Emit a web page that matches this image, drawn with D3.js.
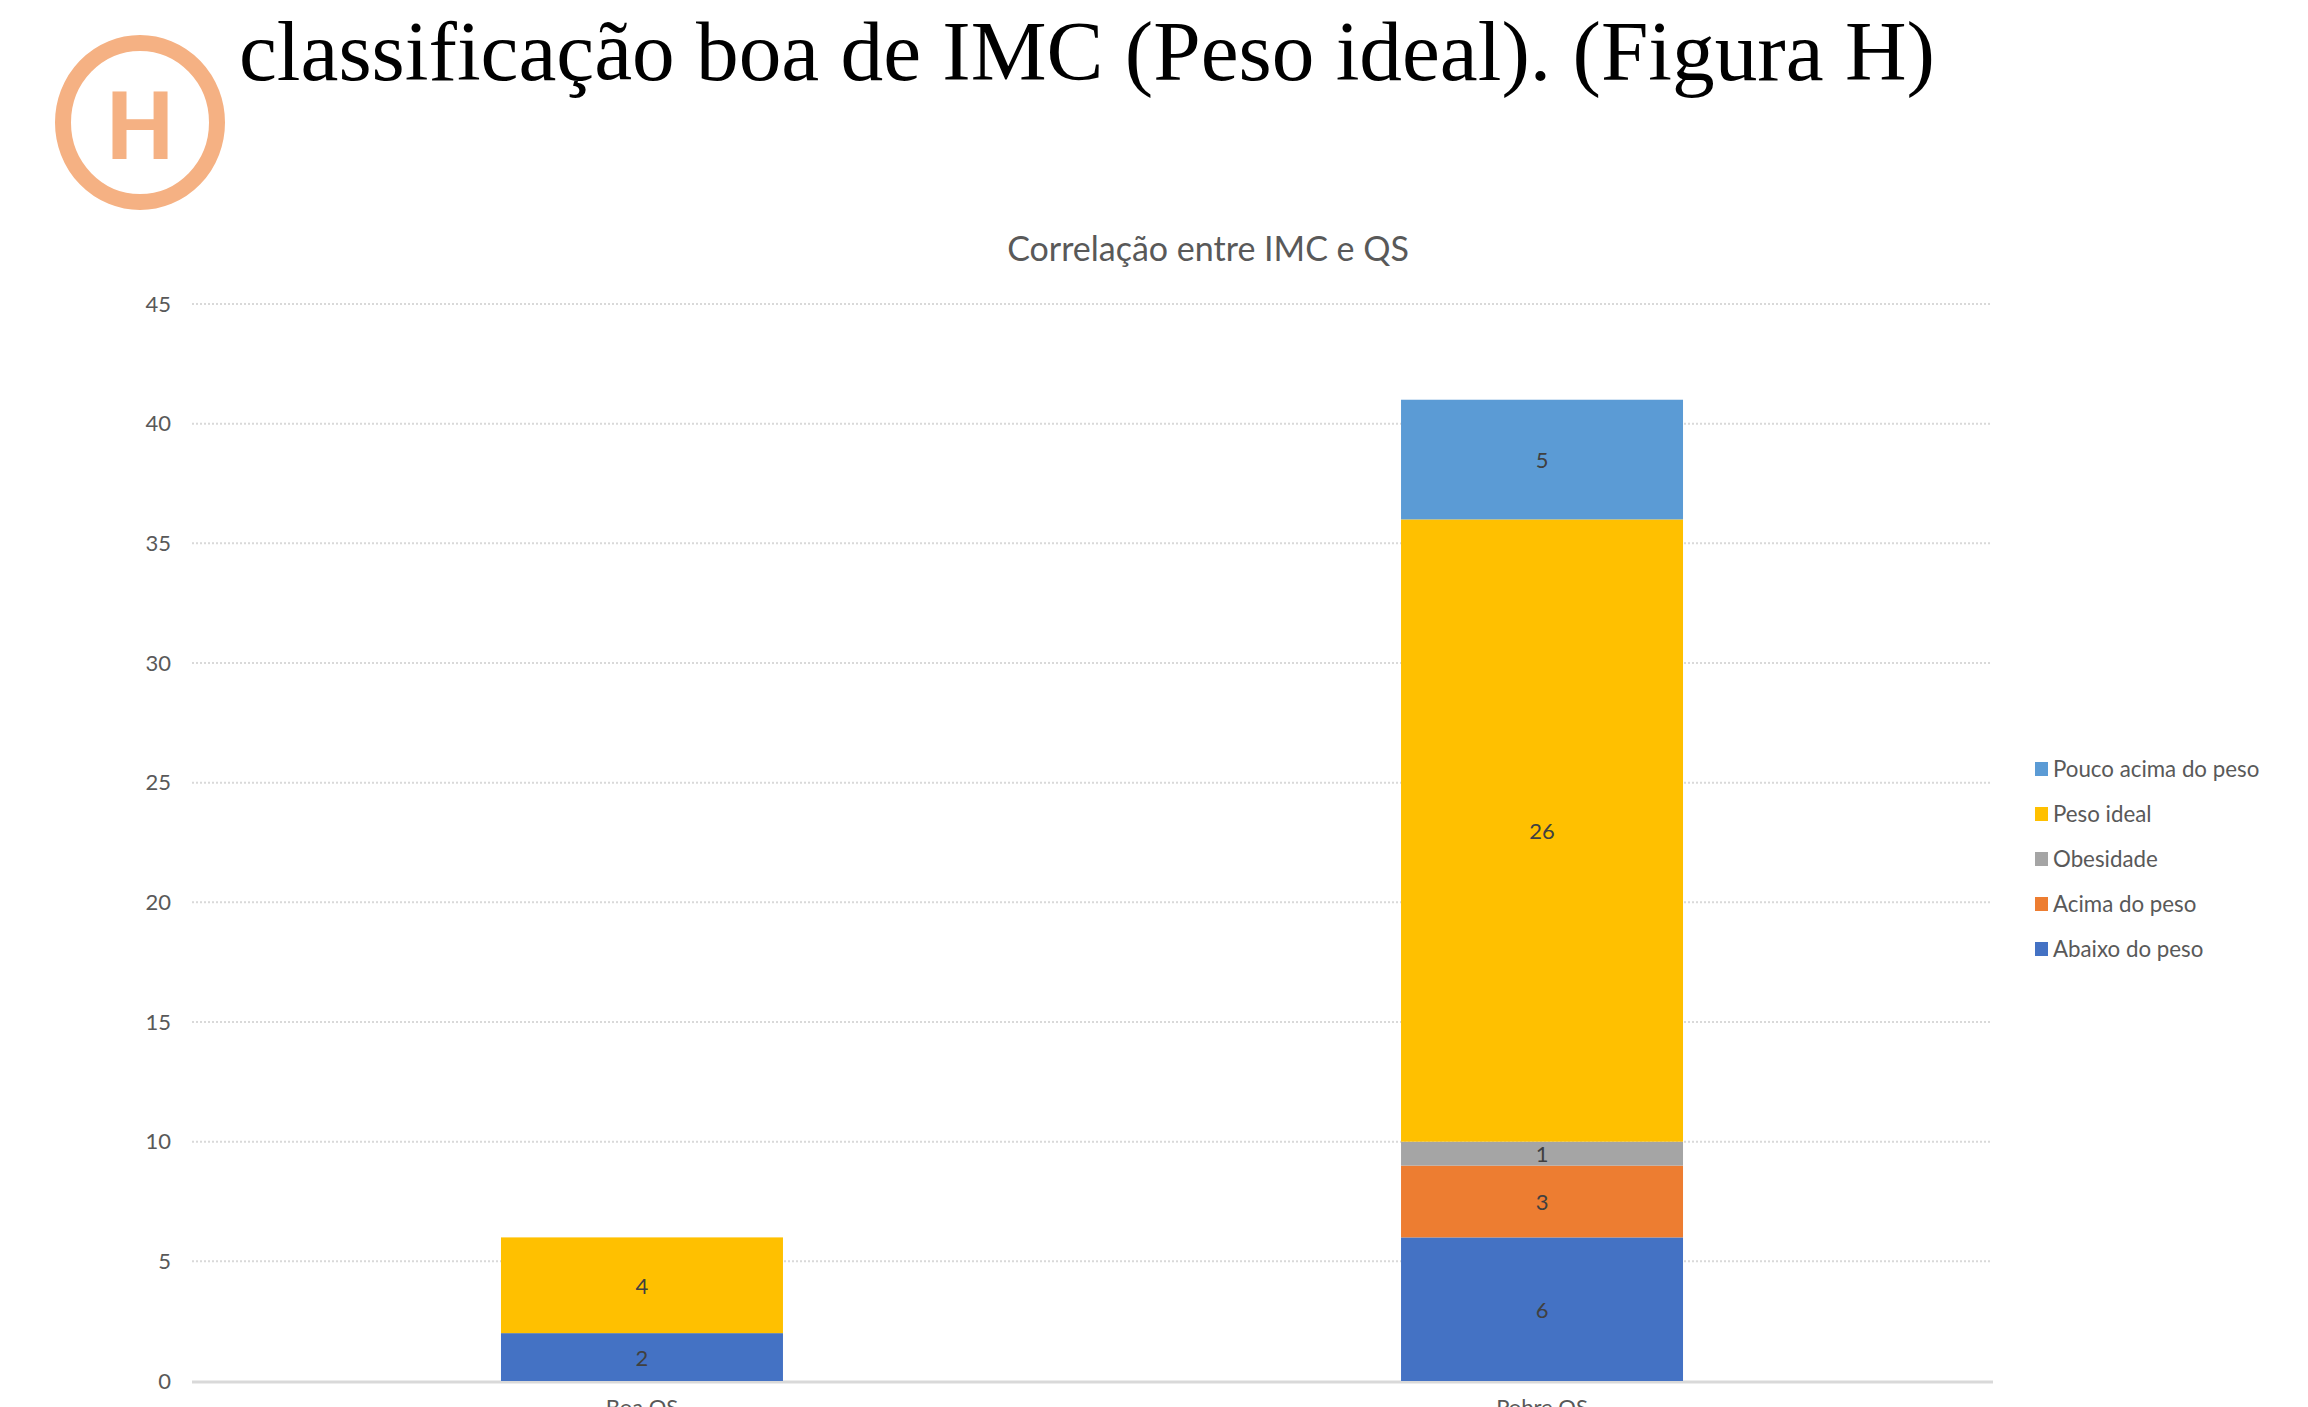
<!DOCTYPE html>
<html><head><meta charset="utf-8">
<script src="https://cdn.jsdelivr.net/npm/d3@7"></script>
<style>html,body{margin:0;background:#fff}svg{display:block}</style></head>
<body><svg id="c" width="2308" height="1407"></svg>
<script>
const categories = ["Boa QS", "Pobre QS"];
const seriesNames = ["Abaixo do peso", "Acima do peso", "Obesidade", "Peso ideal", "Pouco acima do peso"];
const seriesColors = ["#4472c4", "#ed7d31", "#a5a5a5", "#ffc000", "#5b9bd5"];
const boaValues = [2, 0, 0, 4, 0];
const pobreValues = [6, 3, 1, 26, 5];
const yTicks = [0, 5, 10, 15, 20, 25, 30, 35, 40, 45];
const headingText = "classificação boa de IMC (Peso ideal). (Figura H)";
const chartTitle = "Correlação entre IMC e QS";

const svg = d3.select("#c");
const sans = "Lato, 'Open Sans', sans-serif";
const x = d3.scaleBand().domain(categories).range([192, 1992]).paddingInner(0.6867).paddingOuter(0.3433);
const y = d3.scaleLinear().domain([0, 45]).range([1381, 304]);

svg.append("text").attr("x", 239).attr("y", 80).attr("font-family", "'Liberation Serif', serif")
  .attr("font-size", 85.3).attr("fill", "#000").text(headingText);

svg.append("ellipse").attr("cx", 140).attr("cy", 122.5).attr("rx", 77).attr("ry", 79.5)
  .attr("fill", "none").attr("stroke", "#f5b183").attr("stroke-width", 16);
svg.append("text").attr("x", 140).attr("y", 159).attr("text-anchor", "middle")
  .attr("font-family", "Roboto, sans-serif").attr("font-weight", 700).attr("font-size", 95)
  .attr("fill", "#f5b183").text("H");

svg.append("text").attr("x", 1208).attr("y", 261).attr("text-anchor", "middle").attr("font-family", sans)
  .attr("font-size", 34).attr("fill", "#595959").text(chartTitle);

const grid = svg.append("g");
grid.selectAll("line").data(yTicks.filter(d => d > 0)).join("line")
  .attr("x1", 192).attr("x2", 1992).attr("y1", d => y(d)).attr("y2", d => y(d))
  .attr("stroke", "#d9d9d9").attr("stroke-width", 2).attr("stroke-dasharray", "2 2");
svg.append("line").attr("x1", 192).attr("x2", 1993).attr("y1", y(0) + 1).attr("y2", y(0) + 1)
  .attr("stroke", "#d9d9d9").attr("stroke-width", 3);

const yAxis = d3.axisLeft(y).tickValues(yTicks).tickSize(0).tickPadding(21);
const yg = svg.append("g").attr("transform", "translate(192,0)").call(yAxis);
yg.select(".domain").remove();
yg.selectAll("text").attr("font-family", sans).attr("font-size", 22).attr("fill", "#595959");

const xAxis = d3.axisBottom(x).tickSize(0).tickPadding(17);
const xg = svg.append("g").attr("transform", "translate(0,1382)").call(xAxis);
xg.select(".domain").remove();
xg.selectAll("text").attr("font-family", sans).attr("font-size", 22).attr("fill", "#595959");

const rows = [boaValues, pobreValues];
categories.forEach((cat, ci) => {
  let acc = 0;
  seriesNames.forEach((s, si) => {
    const v = rows[ci][si];
    if (!v) return;
    svg.append("rect").attr("x", x(cat)).attr("width", x.bandwidth())
      .attr("y", y(acc + v)).attr("height", y(acc) - y(acc + v)).attr("fill", seriesColors[si]);
    svg.append("text").attr("x", x(cat) + x.bandwidth() / 2).attr("y", y(acc + v / 2) + 1).attr("dy", "0.35em")
      .attr("text-anchor", "middle").attr("font-family", sans).attr("font-size", 22).attr("fill", "#404040").text(v);
    acc += v;
  });
});

const legendOrder = seriesNames.slice().reverse();
const legendY = d3.scalePoint().domain(legendOrder).range([769, 949]);
legendOrder.forEach(name => {
  svg.append("rect").attr("x", 2035).attr("y", legendY(name) - 7).attr("width", 13).attr("height", 14)
    .attr("fill", seriesColors[seriesNames.indexOf(name)]);
  svg.append("text").attr("x", 2053).attr("y", legendY(name)).attr("dy", "0.35em").attr("font-family", sans)
    .attr("font-size", 22.3).attr("fill", "#595959").text(name);
});
</script></body></html>
